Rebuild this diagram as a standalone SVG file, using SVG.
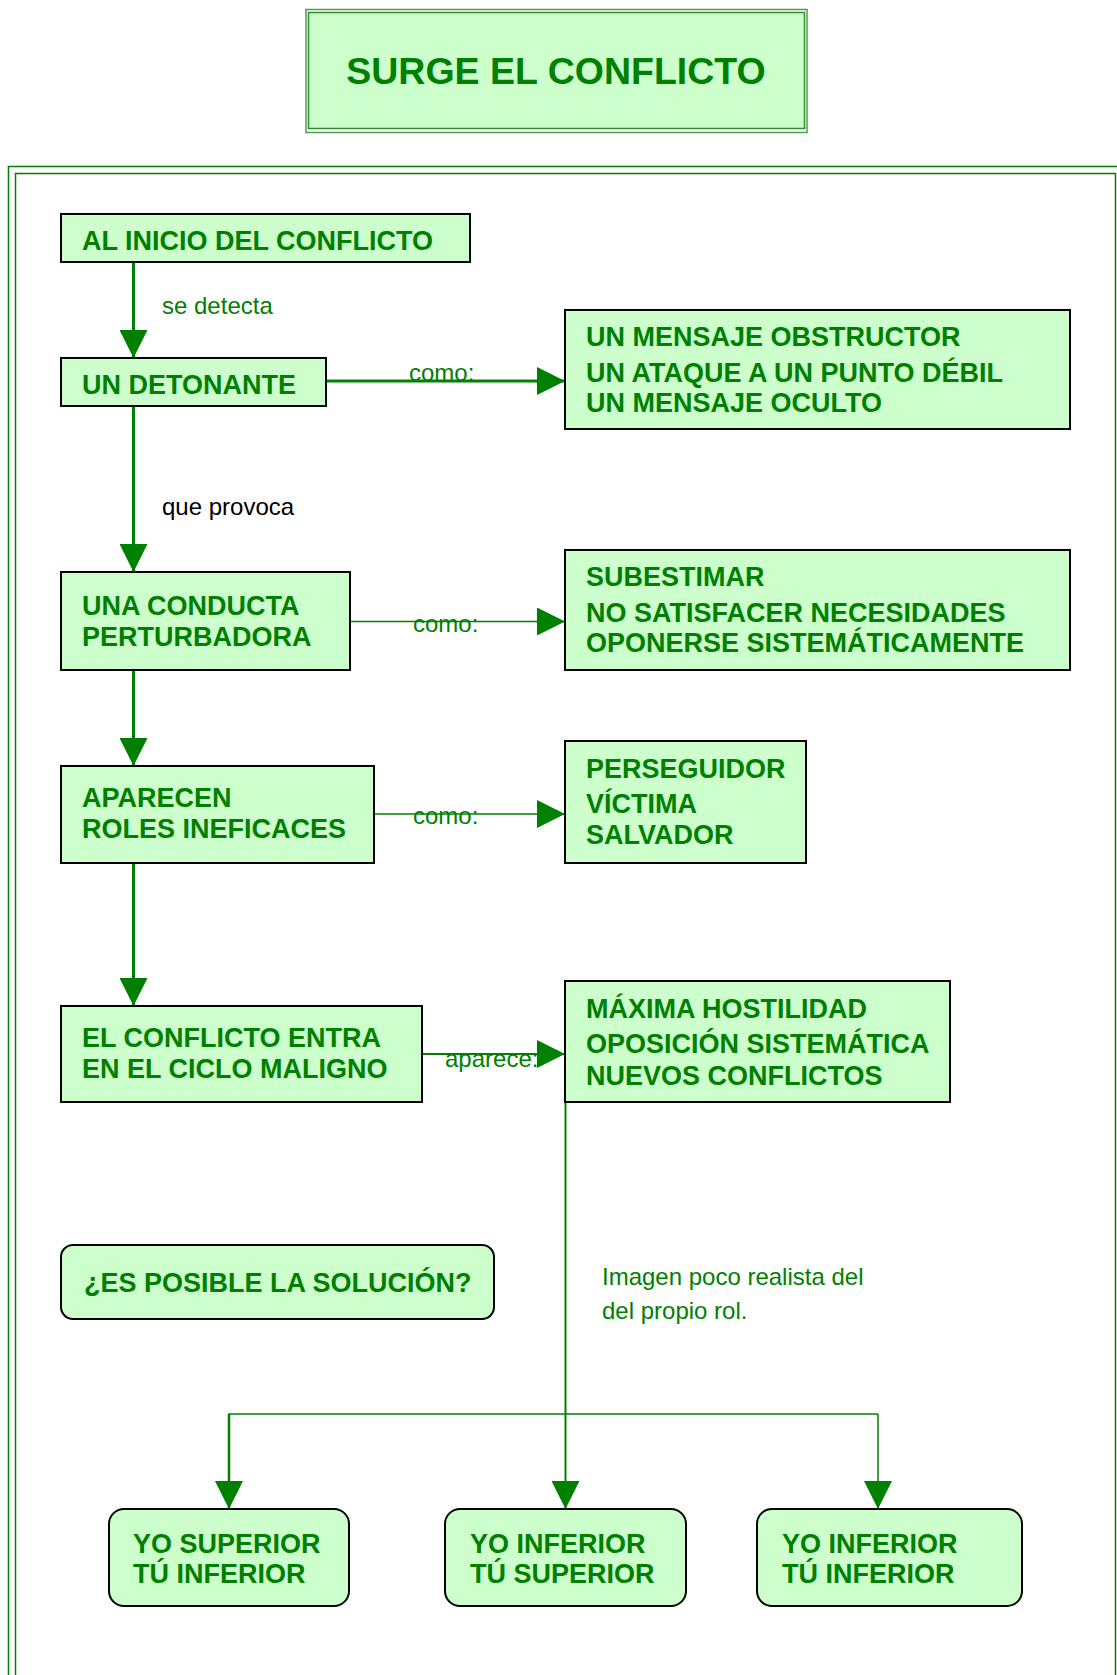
<svg xmlns="http://www.w3.org/2000/svg" width="1117" height="1675" viewBox="0 0 1117 1675">
<style>
.box{fill:#CCFFCC;stroke:#000;stroke-width:2}
.nt{font-family:"Liberation Sans",Arial,sans-serif;font-weight:bold;font-size:27px;fill:#008000}
.lb{font-family:"Liberation Sans",Arial,sans-serif;font-size:24px;fill:#008000}
.ln{fill:none;stroke:#008000}
.frame{fill:none;stroke:#008000;stroke-width:1.5}
</style>
<defs>
<marker id="ah" viewBox="0 0 28 28" markerWidth="28" markerHeight="28" refX="28" refY="14" orient="auto" markerUnits="userSpaceOnUse">
<path d="M0,0 L28,14 L0,28 z" fill="#008000"/>
</marker>
</defs>
<rect width="1117" height="1675" fill="#fff"/>
<g id="frame">
<rect class="frame" x="8.5" y="166.5" width="1120" height="1520"/>
<rect class="frame" x="15.5" y="173.5" width="1100" height="1520"/>
</g>
<g id="title">
<rect x="306" y="9.5" width="501" height="123" fill="none" stroke="#4a9e4a" stroke-width="1.5"/>
<rect x="308.5" y="12.5" width="496" height="116" fill="#CCFFCC" stroke="#2e8b2e" stroke-width="1.5"/>
<text x="556" y="84" text-anchor="middle" font-family="Liberation Sans,Arial,sans-serif" font-weight="bold" font-size="37.5" fill="#008000">SURGE EL CONFLICTO</text>
</g>
<g id="connectors">
<line class="ln" x1="133.5" y1="262" x2="133.5" y2="358" stroke-width="3" marker-end="url(#ah)"/>
<line class="ln" x1="326" y1="381" x2="565" y2="381" stroke-width="3" marker-end="url(#ah)"/>
<line class="ln" x1="133.5" y1="406" x2="133.5" y2="572" stroke-width="3" marker-end="url(#ah)"/>
<line class="ln" x1="350" y1="621.5" x2="565" y2="621.5" stroke-width="1.5" marker-end="url(#ah)"/>
<line class="ln" x1="133.5" y1="670" x2="133.5" y2="766" stroke-width="3" marker-end="url(#ah)"/>
<line class="ln" x1="374" y1="814" x2="565" y2="814" stroke-width="1.5" marker-end="url(#ah)"/>
<line class="ln" x1="133.5" y1="863" x2="133.5" y2="1006" stroke-width="3" marker-end="url(#ah)"/>
<line class="ln" x1="422" y1="1054" x2="565" y2="1054" stroke-width="2" marker-end="url(#ah)"/>
<line class="ln" x1="565.5" y1="1102" x2="565.5" y2="1509" stroke-width="2" marker-end="url(#ah)"/>
<polyline class="ln" points="229,1509 229,1414 878,1414" stroke-width="1.5"/>
<line class="ln" x1="229" y1="1414" x2="229" y2="1509" stroke-width="2.5" marker-end="url(#ah)"/>
<line class="ln" x1="878" y1="1414" x2="878" y2="1509" stroke-width="1.5" marker-end="url(#ah)"/>
<text class="lb" x="162" y="314">se detecta</text>
<text class="lb" x="409" y="381">como:</text>
<text class="lb" x="162" y="515" style="fill:#000">que provoca</text>
<text class="lb" x="413" y="632">como:</text>
<text class="lb" x="413" y="824">como:</text>
<text class="lb" x="445" y="1067">aparece:</text>
<text class="lb" x="602" y="1285">Imagen poco realista del</text>
<text class="lb" x="602" y="1319">del propio rol.</text>
</g>
<g id="n-inicio">
<rect class="box" x="61" y="214" width="409" height="48"/>
<text class="nt" x="82" y="250">AL INICIO DEL CONFLICTO</text>
</g>
<g id="n-detonante">
<rect class="box" x="61" y="358" width="265" height="48"/>
<text class="nt" x="82" y="394">UN DETONANTE</text>
</g>
<g id="n-mensajes">
<rect class="box" x="565" y="310" width="505" height="119"/>
<text class="nt" x="586" y="346">UN MENSAJE OBSTRUCTOR</text>
<text class="nt" x="586" y="382">UN ATAQUE A UN PUNTO DÉBIL</text>
<text class="nt" x="586" y="412">UN MENSAJE OCULTO</text>
</g>
<g id="n-conducta">
<rect class="box" x="61" y="572" width="289" height="98"/>
<text class="nt" x="82" y="615">UNA CONDUCTA</text>
<text class="nt" x="82" y="646">PERTURBADORA</text>
</g>
<g id="n-subestimar">
<rect class="box" x="565" y="550" width="505" height="120"/>
<text class="nt" x="586" y="586">SUBESTIMAR</text>
<text class="nt" x="586" y="621.5">NO SATISFACER NECESIDADES</text>
<text class="nt" x="586" y="652">OPONERSE SISTEMÁTICAMENTE</text>
</g>
<g id="n-roles">
<rect class="box" x="61" y="766" width="313" height="97"/>
<text class="nt" x="82" y="807">APARECEN</text>
<text class="nt" x="82" y="838">ROLES INEFICACES</text>
</g>
<g id="n-perseguidor">
<rect class="box" x="565" y="741" width="241" height="122"/>
<text class="nt" x="586" y="778">PERSEGUIDOR</text>
<text class="nt" x="586" y="813">VÍCTIMA</text>
<text class="nt" x="586" y="844">SALVADOR</text>
</g>
<g id="n-ciclo">
<rect class="box" x="61" y="1006" width="361" height="96"/>
<text class="nt" x="82" y="1046.5">EL CONFLICTO ENTRA</text>
<text class="nt" x="82" y="1077.5">EN EL CICLO MALIGNO</text>
</g>
<g id="n-hostilidad">
<rect class="box" x="565" y="981" width="385" height="121"/>
<text class="nt" x="586" y="1018">MÁXIMA HOSTILIDAD</text>
<text class="nt" x="586" y="1053">OPOSICIÓN SISTEMÁTICA</text>
<text class="nt" x="586" y="1085">NUEVOS CONFLICTOS</text>
</g>
<g id="n-solucion">
<rect class="box" x="61" y="1245" width="433" height="74" rx="12"/>
<text class="nt" x="84" y="1292">¿ES POSIBLE LA SOLUCIÓN?</text>
</g>
<g id="n-sup-inf">
<rect class="box" x="109" y="1509" width="240" height="97" rx="15"/>
<text class="nt" x="133" y="1553">YO SUPERIOR</text>
<text class="nt" x="133" y="1583">TÚ INFERIOR</text>
</g>
<g id="n-inf-sup">
<rect class="box" x="445" y="1509" width="241" height="97" rx="15"/>
<text class="nt" x="470" y="1553">YO INFERIOR</text>
<text class="nt" x="470" y="1583">TÚ SUPERIOR</text>
</g>
<g id="n-inf-inf">
<rect class="box" x="757" y="1509" width="265" height="97" rx="15"/>
<text class="nt" x="782" y="1553">YO INFERIOR</text>
<text class="nt" x="782" y="1583">TÚ INFERIOR</text>
</g>
</svg>
